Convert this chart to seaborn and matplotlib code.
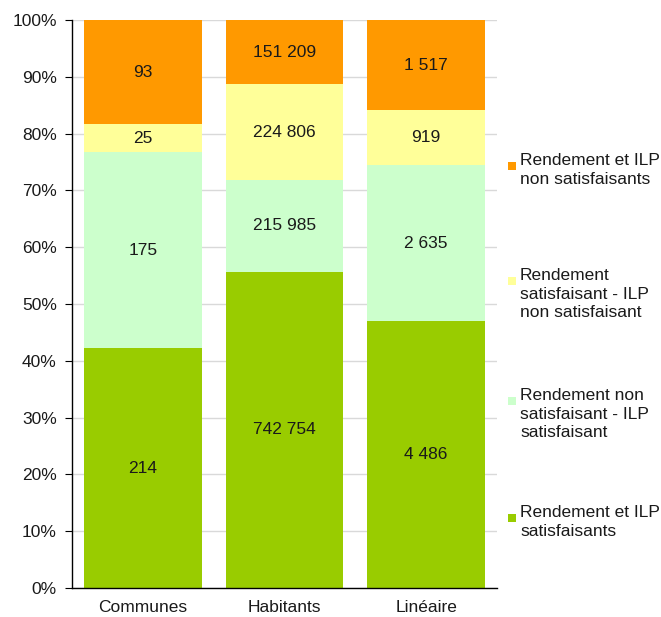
import pandas as pd
import seaborn as sns
import matplotlib.pyplot as plt
from matplotlib.patches import Rectangle
from matplotlib.ticker import PercentFormatter

# Data
categories = ["Communes", "Habitants", "Linéaire"]
ok_both = [214, 742754, 4486]        # Rendement et ILP satisfaisants
ilp_only = [175, 215985, 2635]       # Rendement non satisfaisant - ILP satisfaisant
rend_only = [25, 224806, 919]        # Rendement satisfaisant - ILP non satisfaisant
none_ok = [93, 151209, 1517]         # Rendement et ILP non satisfaisants

series_labels = [
    "Rendement et ILP\nsatisfaisants",
    "Rendement non\nsatisfaisant - ILP\nsatisfaisant",
    "Rendement\nsatisfaisant - ILP\nnon satisfaisant",
    "Rendement et ILP\nnon satisfaisants",
]
colors = ["#99CC00", "#CCFFCC", "#FFFF99", "#FF9900"]

# Build percentage table
df = pd.DataFrame({"cat": categories, "s0": ok_both, "s1": ilp_only,
                   "s2": rend_only, "s3": none_ok})
cols = ["s0", "s1", "s2", "s3"]
total = df[cols].sum(axis=1)
pct = df[cols].div(total, axis=0) * 100
cum = pct.cumsum(axis=1)

sns.set_style("white")
plt.rcParams["font.family"] = ["Liberation Sans", "DejaVu Sans"]
plt.rcParams["font.size"] = 12.5

fig = plt.figure(figsize=(6.61, 6.17), dpi=100)
ax = fig.add_axes([72 / 661, 29 / 617, 425 / 661, 568 / 617])

# stacked bars: draw the cumulative totals from top layer down
for i in range(3, -1, -1):
    sns.barplot(x=df["cat"], y=cum[cols[i]], color=colors[i], saturation=1,
                width=0.83, edgecolor="none", linewidth=0, ax=ax)

# value labels in the middle of each segment
for i, c in enumerate(cols):
    for j in range(len(categories)):
        mid = cum[c][j] - pct[c][j] / 2
        txt = f"{df[c][j]:,}".replace(",", " ")
        ax.text(j, mid, txt, ha="center", va="center", fontsize=12.5, color="#1a1a1a")

ax.set_xlim(-0.5, 2.5)
ax.set_ylim(0, 100)
ax.set_yticks(range(0, 101, 10))
ax.yaxis.set_major_formatter(PercentFormatter(decimals=0))
ax.set_xlabel("")
ax.set_ylabel("")

ax.set_axisbelow(True)
ax.yaxis.grid(True, color="#D9D9D9", linewidth=1)
ax.xaxis.grid(False)

for s in ["top", "right"]:
    ax.spines[s].set_visible(False)
for s in ["left", "bottom"]:
    ax.spines[s].set_color("black")
    ax.spines[s].set_linewidth(1)

ax.set_xticks([0, 1, 2])
ax.set_xticks([-0.5, 0.5, 1.5, 2.5], minor=True)
ax.tick_params(axis="x", which="major", length=0, pad=9, labelsize=12.5, colors="#1a1a1a")
ax.tick_params(axis="x", which="minor", length=5, color="black", direction="out")
ax.tick_params(axis="y", length=5, color="black", direction="out", pad=6,
               labelsize=12.5, labelcolor="#1a1a1a", left=True)

# legend built by hand so the marker sits on the first line of each entry
legend_tops = [157, 272, 392, 509]
for k, i in enumerate([3, 2, 1, 0]):
    ytop = legend_tops[k]
    fig.text(520 / 661, 1 - (ytop - 4) / 617, series_labels[i], ha="left", va="top",
             fontsize=12.5, color="#1a1a1a", linespacing=1.3)
    fig.patches.append(Rectangle((508 / 661, 1 - (ytop + 13) / 617), 8 / 661, 8 / 617,
                                 transform=fig.transFigure, facecolor=colors[i],
                                 edgecolor="none"))

plt.savefig("out.png", dpi=100)
